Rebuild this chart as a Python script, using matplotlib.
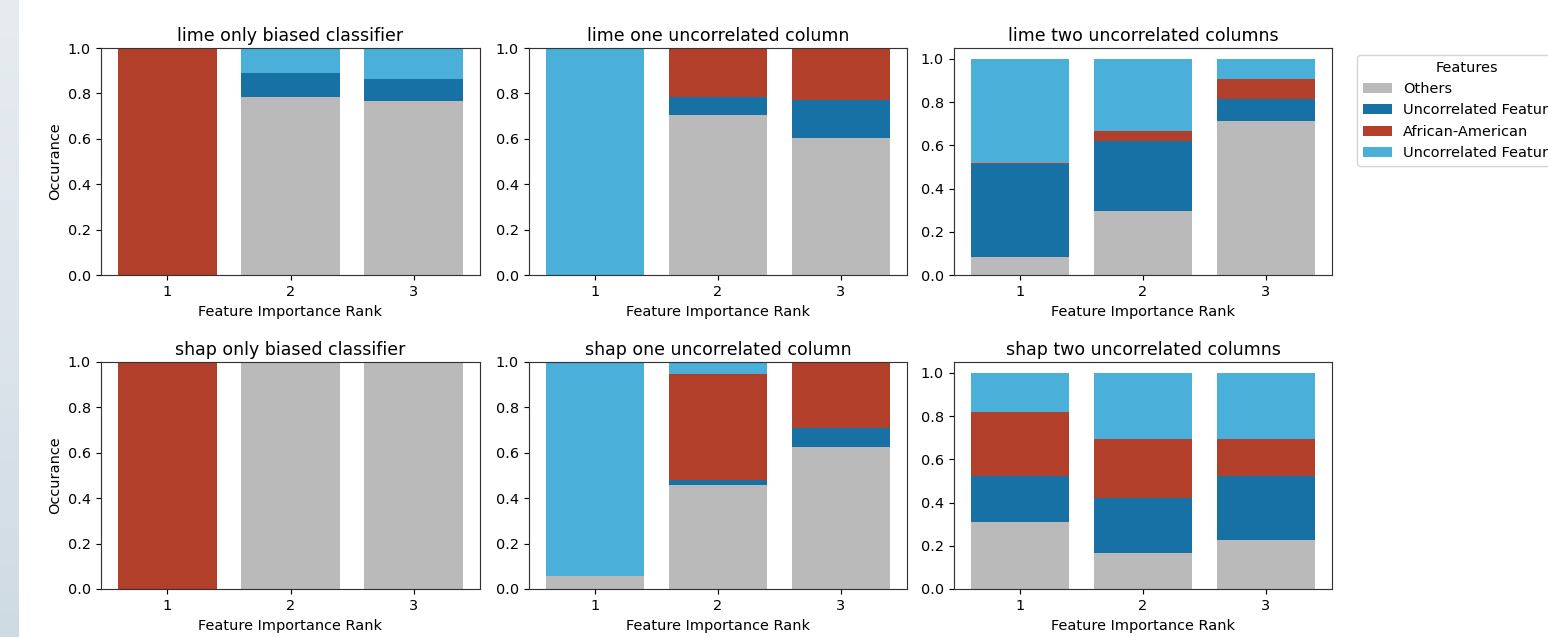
import numpy as np
import matplotlib
matplotlib.use("Agg")
import matplotlib.pyplot as plt
from matplotlib.colors import LinearSegmentedColormap

ranks = [1, 2, 3]
labels = ["Others", "Uncorrelated Feature 1", "African-American", "Uncorrelated Feature 2"]
colors = ["#bababa", "#1771a5", "#b13f29", "#4aafd9"]

titles = ["lime only biased classifier", "lime one uncorrelated column", "lime two uncorrelated columns",
          "shap only biased classifier", "shap one uncorrelated column", "shap two uncorrelated columns"]

# share of each feature at ranks 1,2,3 (order: others, uncorr 1, african-american, uncorr 2)
lime_biased = [[0.0, 0.786, 0.767], [0.0, 0.106, 0.096], [1.0, 0.0, 0.0], [0.0, 0.108, 0.137]]
lime_one = [[0.0, 0.703, 0.605], [0.0, 0.079, 0.164], [0.0, 0.218, 0.231], [1.0, 0.0, 0.0]]
lime_two = [[0.085, 0.298, 0.712], [0.430, 0.324, 0.103], [0.005, 0.043, 0.090], [0.480, 0.335, 0.095]]
shap_biased = [[0.0, 1.0, 1.0], [0.0, 0.0, 0.0], [1.0, 0.0, 0.0], [0.0, 0.0, 0.0]]
shap_one = [[0.059, 0.460, 0.624], [0.0, 0.020, 0.086], [0.0, 0.466, 0.290], [0.941, 0.054, 0.0]]
shap_two = [[0.311, 0.166, 0.228], [0.212, 0.254, 0.295], [0.296, 0.275, 0.172], [0.181, 0.305, 0.305]]

data = [lime_biased, lime_one, lime_two, shap_biased, shap_one, shap_two]

W, H = 1548, 637
DPI = 104
fig = plt.figure(figsize=(W / DPI, H / DPI), dpi=DPI)

# light strip on the left edge of the screenshot
bg = fig.add_axes([0, 0, 19 / W, 1])
grad = np.linspace(0, 1, 256).reshape(-1, 1)
cm = LinearSegmentedColormap.from_list("strip", ["#e6ecef", "#dde4ec", "#cfdbe3"])
bg.imshow(grad, aspect="auto", cmap=cm, extent=[0, 1, 0, 1], origin="upper")
bg.axis("off")

# axes boxes in pixels: left, right, top, bottom
cols = [(101, 480), (529, 907), (954, 1332)]
rows = [(48, 275), (362, 589)]

axes = []
for i in range(6):
    r, c = divmod(i, 3)
    x0, x1 = cols[c]
    y0, y1 = rows[r]
    ax = fig.add_axes([x0 / W, 1 - y1 / H, (x1 - x0) / W, (y1 - y0) / H])
    axes.append(ax)
    bottom = np.zeros(3)
    for k in range(4):
        vals = np.array(data[i][k])
        ax.bar(ranks, vals, bottom=bottom, color=colors[k], label=labels[k], width=0.8)
        bottom += vals
    ax.set_title(titles[i], pad=5)
    ax.set_xticks(ranks)
    ax.set_xlabel("Feature Importance Rank")
    if c == 0:
        ax.set_ylabel("Occurance")
    if c < 2:
        ax.set_ylim(0, 1)
    for s in ax.spines.values():
        s.set_color("#333333")

axes[2].legend(title="Features", loc="upper left", bbox_to_anchor=(1.047, 1.0))

fig.savefig("out.png", dpi=DPI)
